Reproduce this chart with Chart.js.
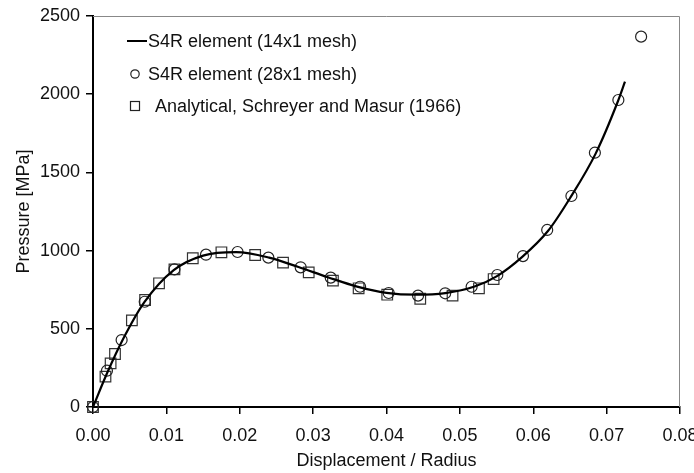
<!DOCTYPE html>
<html>
<head>
<meta charset="utf-8">
<script src="https://cdn.jsdelivr.net/npm/chart.js@4.4.1/dist/chart.umd.min.js"></script>
<style>
  body { margin: 0; background: #fff; }
  #wrap { width: 694px; height: 473px; }
</style>
</head>
<body>
<div id="wrap"><canvas id="chart" width="694" height="473"></canvas></div>
<script>
// S4R element (14x1 mesh) - solid line
let lineX = [0, 0.002, 0.004, 0.007, 0.011, 0.015, 0.0195, 0.024, 0.028, 0.032, 0.036, 0.040, 0.044, 0.048, 0.052, 0.055, 0.0585, 0.062, 0.065, 0.0685, 0.0715, 0.0725];
let lineY = [0, 225, 425, 670, 875, 968, 990, 955, 895, 830, 770, 730, 718, 728, 770, 835, 960, 1125, 1335, 1620, 1950, 2080];

// S4R element (28x1 mesh) - circles
let fineX = [0, 0.0019, 0.0039, 0.00705, 0.0111, 0.0154, 0.0197, 0.0239, 0.0283, 0.0324, 0.0364, 0.0403, 0.0443, 0.0480, 0.0516, 0.0551, 0.0586, 0.0619, 0.0652, 0.0684, 0.0716, 0.0747];
let fineY = [0, 232, 428, 673, 880, 974, 991, 955, 893, 827, 769, 729, 712, 727, 769, 844, 965, 1132, 1349, 1626, 1963, 2368];

// Analytical, Schreyer and Masur (1966) - squares
let anaX = [0, 0.0017, 0.0024, 0.0030, 0.0053, 0.0071, 0.0090, 0.0111, 0.0136, 0.0175, 0.0221, 0.0259, 0.0294, 0.0327, 0.0362, 0.0401, 0.0446, 0.0490, 0.0526, 0.0546];
let anaY = [0, 194, 279, 339, 554, 684, 791, 880, 951, 989, 972, 923, 861, 808, 759, 718, 692, 712, 759, 818];

let xTicks = [0, 0.01, 0.02, 0.03, 0.04, 0.05, 0.06, 0.07, 0.08];
let yTicks = [0, 500, 1000, 1500, 2000, 2500];

let labels = ["S4R element (14x1 mesh)", "S4R element (28x1 mesh)", "Analytical, Schreyer and Masur (1966)"];

function pts(xs, ys) {
    return xs.map((x, i) => ({ x: x, y: ys[i] }));
}

const font = "'Liberation Sans', Arial, sans-serif";

// legend drawn inside the plot, top left
const insideLegend = {
    id: "insideLegend",
    afterDraw(chart) {
        let ctx = chart.ctx;
        ctx.save();
        ctx.font = "18px " + font;
        ctx.fillStyle = "#111";
        ctx.textBaseline = "middle";
        let rows = [41, 74, 106];

        ctx.strokeStyle = "#000";
        ctx.lineWidth = 2;
        ctx.beginPath();
        ctx.moveTo(127, rows[0]);
        ctx.lineTo(147, rows[0]);
        ctx.stroke();
        ctx.fillText(chart.data.datasets[0].label, 148, rows[0] + 1);

        ctx.strokeStyle = "#222";
        ctx.lineWidth = 1.2;
        ctx.beginPath();
        ctx.arc(135, rows[1], 4.2, 0, Math.PI * 2);
        ctx.stroke();
        ctx.fillText(chart.data.datasets[1].label, 148, rows[1] + 1);

        ctx.strokeRect(130.5, rows[2] - 4.5, 9, 9);
        ctx.fillText(chart.data.datasets[2].label, 155, rows[2] + 1);
        ctx.restore();
    }
};

// grey frame on top and right
const frame = {
    id: "frame",
    beforeDatasetsDraw(chart) {
        let a = chart.chartArea;
        let ctx = chart.ctx;
        ctx.save();
        ctx.strokeStyle = "#888";
        ctx.lineWidth = 1;
        ctx.beginPath();
        ctx.moveTo(a.left, a.top + 0.5);
        ctx.lineTo(a.right - 0.5, a.top + 0.5);
        ctx.lineTo(a.right - 0.5, a.bottom);
        ctx.stroke();
        ctx.restore();
    }
};

new Chart(document.getElementById("chart"), {
    type: "scatter",
    data: {
        datasets: [
            {
                label: labels[0],
                data: pts(lineX, lineY),
                showLine: true,
                borderColor: "#000",
                borderWidth: 2.2,
                pointRadius: 0,
                cubicInterpolationMode: "monotone",
                clip: false,
                order: 0
            },
            {
                label: labels[1],
                data: pts(fineX, fineY),
                pointStyle: "circle",
                pointRadius: 5.5,
                borderColor: "#222",
                borderWidth: 1.2,
                backgroundColor: "rgba(0,0,0,0)",
                clip: false,
                order: 1
            },
            {
                label: labels[2],
                data: pts(anaX, anaY),
                pointStyle: "rect",
                pointRadius: 7.5,
                borderColor: "#333",
                borderWidth: 1.2,
                backgroundColor: "rgba(0,0,0,0)",
                clip: false,
                order: 2
            }
        ]
    },
    options: {
        responsive: false,
        animation: false,
        layout: { padding: { top: 16, right: 14, left: 0, bottom: 0 } },
        plugins: {
            legend: { display: false },
            tooltip: { enabled: false }
        },
        scales: {
            x: {
                type: "linear",
                min: 0,
                max: 0.08,
                afterBuildTicks(axis) { axis.ticks = xTicks.map(v => ({ value: v })); },
                afterFit(axis) {
                    axis.height = 66;
                    axis.paddingLeft = 0;
                    axis.paddingRight = 0;
                },
                border: { color: "#000", width: 2 },
                grid: { drawOnChartArea: false, color: "#000", tickLength: 7, lineWidth: 1.5 },
                ticks: {
                    color: "#111",
                    font: { family: font, size: 18 },
                    padding: 11,
                    callback: v => v.toFixed(2)
                },
                title: {
                    display: true,
                    text: "Displacement / Radius",
                    color: "#111",
                    font: { family: font, size: 18 },
                    padding: { top: 0, bottom: 1 }
                }
            },
            y: {
                type: "linear",
                min: 0,
                max: 2500,
                afterBuildTicks(axis) { axis.ticks = yTicks.map(v => ({ value: v })); },
                afterFit(axis) {
                    axis.width = 93;
                    axis.paddingTop = 0;
                    axis.paddingBottom = 0;
                },
                border: { color: "#000", width: 2 },
                grid: { drawOnChartArea: false, color: "#000", tickLength: 7, lineWidth: 1.5 },
                ticks: {
                    color: "#111",
                    font: { family: font, size: 18 },
                    padding: 6,
                    callback: v => String(v)
                },
                title: {
                    display: true,
                    text: "Pressure [MPa]",
                    color: "#111",
                    font: { family: font, size: 18 },
                    padding: { top: 13, bottom: 0 }
                }
            }
        }
    },
    plugins: [frame, insideLegend]
});
</script>
</body>
</html>
